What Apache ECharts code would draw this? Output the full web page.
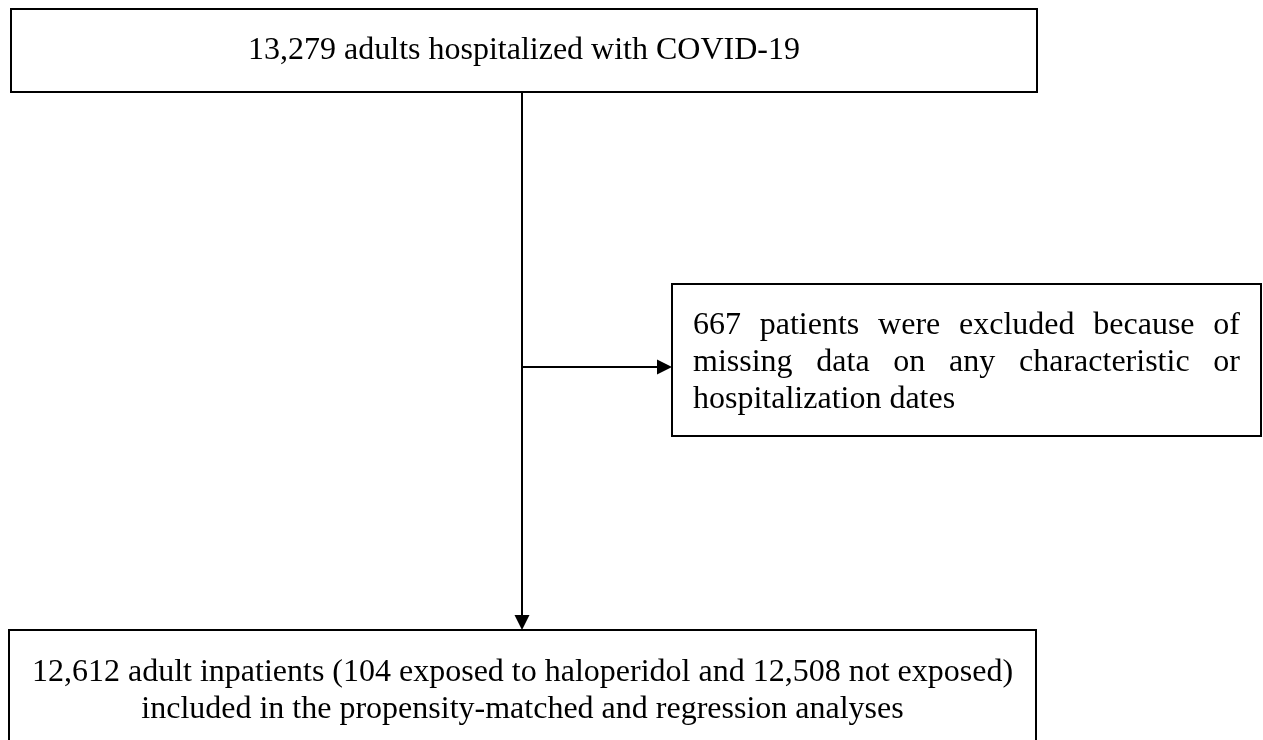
<!DOCTYPE html>
<html>
<head>
<meta charset="utf-8">
<script src="https://cdn.jsdelivr.net/npm/echarts@6/dist/echarts.min.js"></script>
<style>
  html, body { margin: 0; padding: 0; background: #fff; }
  #flow { width: 1263px; height: 740px; }
</style>
</head>
<body>
<div id="flow"></div>
<script>
// counts shown in the flow diagram
const stageCounts = [13279, 667, 12612]
const exposureCounts = [104, 12508]
const fmt = n => n.toLocaleString('en-US')

const boxLines = [
  [fmt(stageCounts[0]) + ' adults hospitalized with COVID-19'],
  [
    fmt(stageCounts[1]) + ' patients were excluded because of',
    'missing data on any characteristic or',
    'hospitalization dates'
  ],
  [
    fmt(stageCounts[2]) + ' adult inpatients (' + fmt(exposureCounts[0]) + ' exposed to haloperidol and ' + fmt(exposureCounts[1]) + ' not exposed)',
    'included in the propensity-matched and regression analyses'
  ]
]
const boxAlign = ['center', 'justify', 'center']

// layout (page pixels)
const boxRects = [[11, 9, 1037, 92], [672, 284, 1261, 436], [9, 630, 1036, 760]]
const lineMids = [[51], [326, 363, 400], [673, 710]]
const textPad = 21
const connectors = [
  [[522, 92], [522, 630]],
  [[522, 367], [672, 367]]
]

const FONT = '32px "Liberation Serif"'
const measure = document.createElement('canvas').getContext('2d')
measure.font = FONT

const chart = echarts.init(document.getElementById('flow'))

function textEl (txt, x, y, align) {
  return {
    type: 'text',
    x: x,
    y: y,
    style: {
      text: txt,
      font: FONT,
      fill: '#000',
      textAlign: align,
      textVerticalAlign: 'middle'
    }
  }
}

function renderBox (params, api) {
  const i = api.value(0)
  const r = boxRects[i]
  const p0 = api.coord([r[0], r[1]])
  const p1 = api.coord([r[2], r[3]])
  const children = [{
    type: 'rect',
    shape: { x: p0[0], y: p0[1], width: p1[0] - p0[0], height: p1[1] - p0[1] },
    style: { fill: '#fff', stroke: '#000', lineWidth: 2 }
  }]
  const lines = boxLines[i]
  lines.forEach((ln, k) => {
    const y = api.coord([0, lineMids[i][k]])[1]
    if (boxAlign[i] === 'center') {
      children.push(textEl(ln, (p0[0] + p1[0]) / 2, y, 'center'))
    } else {
      // justified paragraph, last line left aligned
      const left = p0[0] + textPad
      const right = p1[0] - textPad
      const words = ln.split(' ')
      if (k === lines.length - 1 || words.length < 2) {
        children.push(textEl(ln, left, y, 'left'))
        return
      }
      const widths = words.map(w => measure.measureText(w).width)
      const total = widths.reduce((a, b) => a + b, 0)
      const gap = (right - left - total) / (words.length - 1)
      let x = left
      words.forEach((w, j) => {
        children.push(textEl(w, x, y, 'left'))
        x += widths[j] + gap
      })
    }
  })
  return { type: 'group', children: children }
}

function renderConnector (params, api) {
  const c = connectors[api.value(0)]
  const a = api.coord(c[0])
  const b = api.coord(c[1])
  const dx = b[0] - a[0]
  const dy = b[1] - a[1]
  const len = Math.sqrt(dx * dx + dy * dy)
  const ux = dx / len
  const uy = dy / len
  const head = 15
  const half = 7.5
  const bx = b[0] - ux * head
  const by = b[1] - uy * head
  return {
    type: 'group',
    children: [
      {
        type: 'line',
        shape: { x1: a[0], y1: a[1], x2: bx, y2: by },
        style: { stroke: '#000', lineWidth: 2 }
      },
      {
        type: 'polygon',
        shape: { points: [[b[0], b[1]], [bx - uy * half, by + ux * half], [bx + uy * half, by - ux * half]] },
        style: { fill: '#000' }
      }
    ]
  }
}

const option = {
  animation: false,
  backgroundColor: '#fff',
  grid: { left: 0, right: 0, top: 0, bottom: 0 },
  xAxis: { type: 'value', min: 0, max: 1263, show: false },
  yAxis: { type: 'value', min: 0, max: 740, inverse: true, show: false },
  series: [
    {
      type: 'custom',
      clip: false,
      renderItem: renderConnector,
      data: connectors.map((_, i) => [i])
    },
    {
      type: 'custom',
      clip: false,
      renderItem: renderBox,
      data: boxLines.map((_, i) => [i])
    }
  ]
}
chart.setOption(option)
</script>
</body>
</html>
